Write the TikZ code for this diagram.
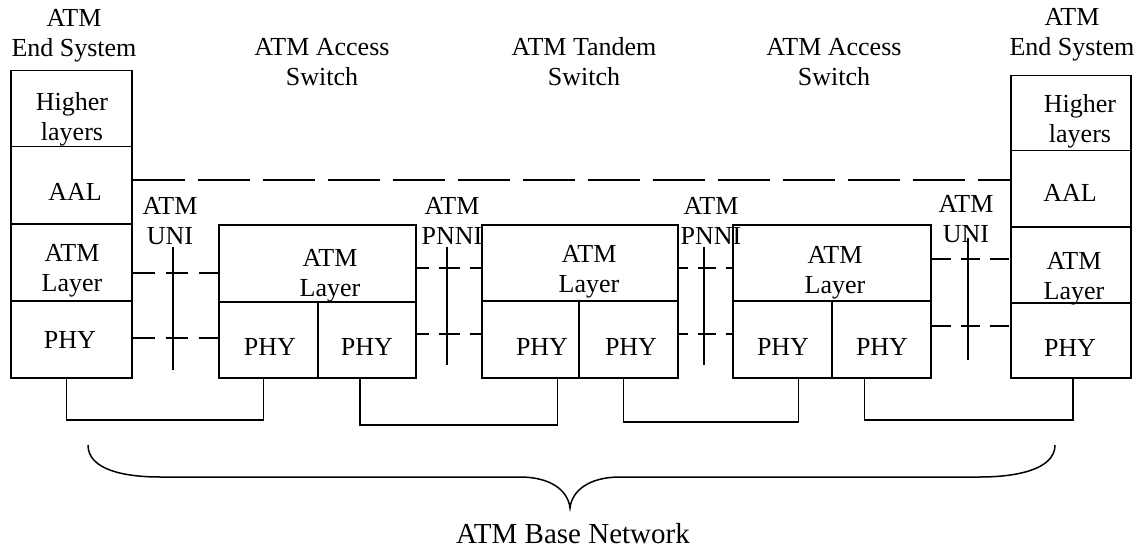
\documentclass[tikz,border=0pt]{standalone}
\usepackage{fontspec}
\setmainfont{Liberation Serif}
\begin{document}
\begin{tikzpicture}[x=1pt,y=-1pt,line width=1.5pt,
  cell/.style={draw,rectangle,inner sep=0pt,anchor=north west},
  lbl/.style={font=\fontsize{26}{30}\selectfont,align=center,inner sep=0pt},
  big/.style={font=\fontsize{29}{32}\selectfont,inner sep=0pt},
  longdash/.style={dash pattern=on 52pt off 13pt}]
\fill[white] (0,0) rectangle (1148,548);
\path[use as bounding box] (0,0) rectangle (1148,548);

% left end system
\node[cell,minimum width=121pt,minimum height=76pt] (lhl) at (10,70) {};
\node[cell,minimum width=121pt,minimum height=77pt] (lal) at (10,146) {};
\node[cell,minimum width=121pt,minimum height=77pt] (lat) at (10,223) {};
\node[cell,minimum width=121pt,minimum height=77pt] (lph) at (10,300) {};
% right end system
\node[cell,minimum width=120pt,minimum height=75pt] (rhl) at (1010,75) {};
\node[cell,minimum width=120pt,minimum height=76pt] (ral) at (1010,150) {};
\node[cell,minimum width=120pt,minimum height=76pt] (rat) at (1010,226) {};
\node[cell,minimum width=120pt,minimum height=75pt] (rph) at (1010,302) {};
% switch 1
\node[cell,minimum width=197pt,minimum height=77pt] (s1t) at (218,224) {};
\node[cell,minimum width=99pt,minimum height=76pt] (s1a) at (218,301) {};
\node[cell,minimum width=98pt,minimum height=76pt] (s1b) at (317,301) {};
% switch 2
\node[cell,minimum width=196pt,minimum height=76pt] (s2t) at (481,224) {};
\node[cell,minimum width=97pt,minimum height=77pt] (s2a) at (481,300) {};
\node[cell,minimum width=99pt,minimum height=77pt] (s2b) at (578,300) {};
% switch 3
\node[cell,minimum width=198pt,minimum height=76pt] (s3t) at (732,224) {};
\node[cell,minimum width=99pt,minimum height=77pt] (s3a) at (732,300) {};
\node[cell,minimum width=99pt,minimum height=77pt] (s3b) at (831,300) {};

% texts
\node[lbl] (tles) at (74,36) {ATM\\End System};
\node[lbl] (tlhl) at (72,119) {Higher\\layers};
\node[lbl] (tlal) at (75,192) {AAL};
\node[lbl] (tlat) at (72,271) {ATM\\Layer};
\node[lbl] (tlph) at (70,340) {PHY};
\node[lbl] (tres) at (1072,35) {ATM\\End System};
\node[lbl] (trhl) at (1080,121) {Higher\\layers};
\node[lbl] (tral) at (1070,193) {AAL};
\node[lbl] (trat) at (1074,279) {ATM\\Layer};
\node[lbl] (trph) at (1070,348) {PHY};
\node[lbl] (ts1t) at (330,276) {ATM\\Layer};
\node[lbl] (ts1a) at (270,347) {PHY};
\node[lbl] (ts1b) at (367,347) {PHY};
\node[lbl] (ts2t) at (589,272) {ATM\\Layer};
\node[lbl] (ts2a) at (542,347) {PHY};
\node[lbl] (ts2b) at (631,347) {PHY};
\node[lbl] (ts3t) at (835,273) {ATM\\Layer};
\node[lbl] (ts3a) at (783,347) {PHY};
\node[lbl] (ts3b) at (882,347) {PHY};
\node[lbl] (tsw1) at (322,62) {ATM Access\\Switch};
\node[lbl] (tsw2) at (584,62) {ATM Tandem\\Switch};
\node[lbl] (tsw3) at (834,62) {ATM Access\\Switch};
\node[lbl] (tuni1) at (170,221) {ATM\\UNI};
\node[lbl] (tpnni1) at (452,221) {ATM\\PNNI};
\node[lbl] (tpnni2) at (711,221) {ATM\\PNNI};
\node[lbl] (tuni2) at (966,219) {ATM\\UNI};
\node[big,anchor=base] (tbase) at (573,543) {ATM Base Network};

% AAL peer line
\draw[longdash] (lal.east |- 0,180) -- (ral.west |- 0,180);
% UNI left
\draw[dash pattern=on 22pt off 11pt] (lat.east |- 0,273) -- (s1t.west |- 0,273);
\draw[dash pattern=on 22pt off 11pt] (lph.east |- 0,338) -- (s1a.west |- 0,338);
% PNNI 1
\draw[dash pattern=on 21pt off 10pt,dash phase=9pt] (s1t.east |- 0,268) -- (s2t.west |- 0,268);
\draw[dash pattern=on 21pt off 10pt,dash phase=9pt] (s1b.east |- 0,334) -- (s2a.west |- 0,334);
% PNNI 2
\draw[dash pattern=on 18pt off 10pt,dash phase=9pt] (s2t.east |- 0,268) -- (s3t.west |- 0,268);
\draw[dash pattern=on 18pt off 10pt,dash phase=9pt] (s2b.east |- 0,334) -- (s3a.west |- 0,334);
% UNI right
\draw[dash pattern=on 19pt off 10pt] (s3t.east |- 0,259) -- (rat.west |- 0,259);
\draw[dash pattern=on 19pt off 10pt] (s3b.east |- 0,326) -- (rph.west |- 0,326);

% interface markers
\coordinate (u1t) at (173,247); \coordinate (u1b) at (173,370);
\coordinate (p1t) at (447,247); \coordinate (p1b) at (447,365);
\coordinate (p2t) at (704,247); \coordinate (p2b) at (704,365);
\coordinate (u2t) at (968,238); \coordinate (u2b) at (968,360);
\draw (u1t) -- (u1b);
\draw (p1t) -- (p1b);
\draw (p2t) -- (p2b);
\draw (u2t) -- (u2b);

% physical links
\draw ([xshift=-5pt]lph.south) -- ([xshift=-5pt]lph.south |- 0,420) -| ([xshift=-5pt]s1a.south);
\draw ([xshift=-7pt]s1b.south) -- ([xshift=-7pt]s1b.south |- 0,425) -| ([xshift=27pt]s2a.south);
\draw ([xshift=-5pt]s2b.south) -- ([xshift=-5pt]s2b.south |- 0,422) -| ([xshift=16pt]s3a.south);
\draw ([xshift=-17pt]s3b.south) -- ([xshift=-17pt]s3b.south |- 0,420) -| ([xshift=2pt]rph.south);

% brace
\coordinate (bl) at (88,445);
\coordinate (btip) at (570,508);
\coordinate (br) at (1055,445);
\draw (bl) .. controls (88,470) and (125,477) .. (160,477) -- (520,477)
  .. controls (550,477) and (568,490) .. (btip)
  .. controls (572,490) and (590,477) .. (620,477) -- (980,477)
  .. controls (1015,477) and (1055,470) .. (br);
\end{tikzpicture}
\end{document}
